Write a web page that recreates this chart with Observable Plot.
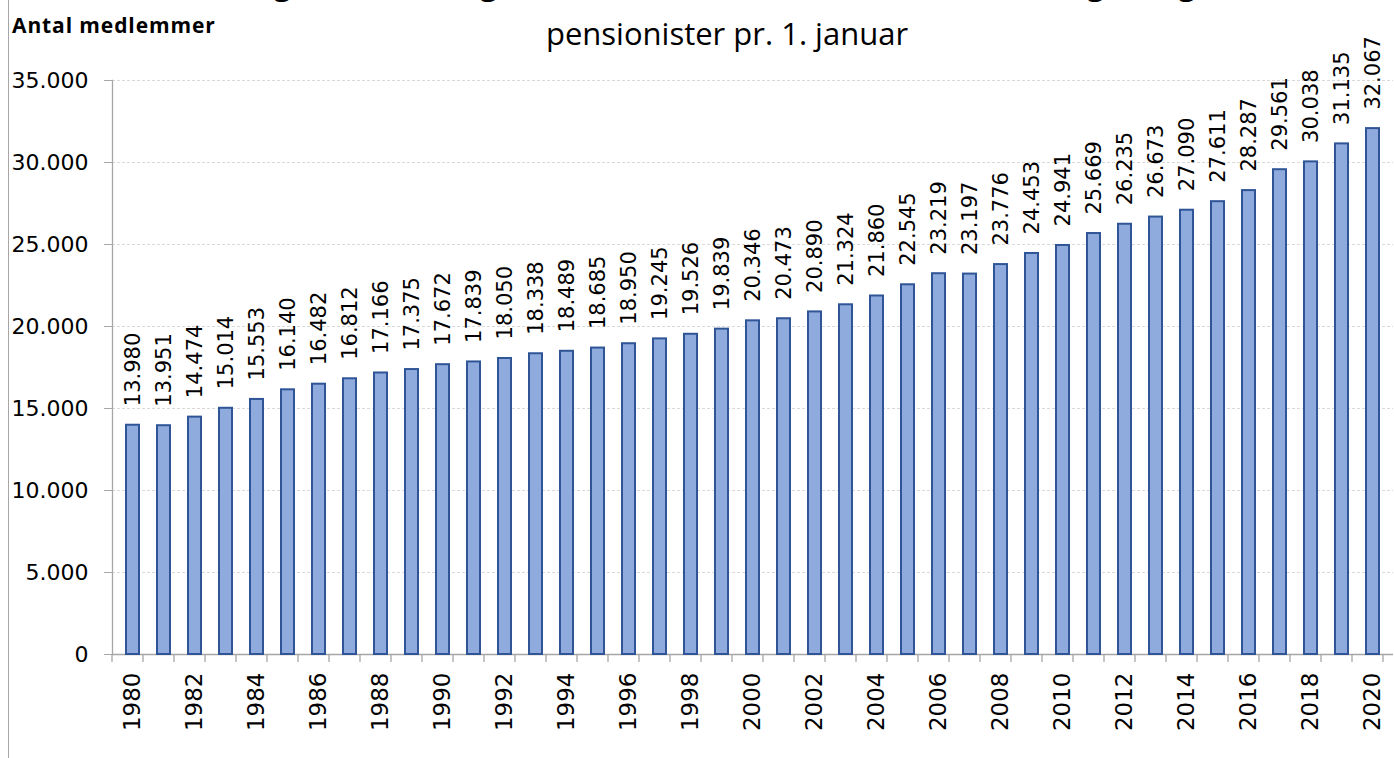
<!DOCTYPE html>
<html>
<head>
<meta charset="utf-8">
<script src="https://cdn.jsdelivr.net/npm/d3@7"></script>
<script src="https://cdn.jsdelivr.net/npm/@observablehq/plot@0.6"></script>
<style>
  html, body { margin: 0; padding: 0; background: #fff; overflow: hidden; }
  #wrap { position: relative; width: 1394px; height: 758px; overflow: hidden; }
  #frame { position: absolute; left: 8px; top: 0; width: 1px; height: 758px; background: #a6a6a6; }
  .title { position: absolute; left: 0; width: 1454px; text-align: center; font-family: "Open Sans", sans-serif; font-size: 31px; color: #000; white-space: nowrap; line-height: 40px; }
  #t1 { top: -37px; }
  #t2 { top: 13px; }
  #ylab { position: absolute; left: 12px; top: 11px; font-family: "Open Sans", sans-serif; font-weight: bold; font-size: 21px; letter-spacing: 0.9px; color: #000; white-space: nowrap; }
  #chart { position: absolute; left: 0; top: 0; }
</style>
</head>
<body>
<div id="wrap">
  <div id="chart"></div>
  <div id="frame"></div>
  <div class="title" id="t1">Figur 1. Udvikling i antal medlemmer (inkl. efterlønsmodtagere og)</div>
  <div class="title" id="t2">pensionister pr. 1. januar</div>
  <div id="ylab">Antal medlemmer</div>
</div>
<script>
const years = ["1980","1981","1982","1983","1984","1985","1986","1987","1988","1989",
  "1990","1991","1992","1993","1994","1995","1996","1997","1998","1999",
  "2000","2001","2002","2003","2004","2005","2006","2007","2008","2009",
  "2010","2011","2012","2013","2014","2015","2016","2017","2018","2019","2020"];
const members = [13980,13951,14474,15014,15553,16140,16482,16812,17166,17375,
  17672,17839,18050,18338,18489,18685,18950,19245,19526,19839,
  20346,20473,20890,21324,21860,22545,23219,23197,23776,24453,
  24941,25669,26235,26673,27090,27611,28287,29561,30038,31135,32067];
const yTicks = [0,5000,10000,15000,20000,25000,30000,35000];
const xLabelYears = years.filter((d, i) => i % 2 === 0);

const data = years.map((y, i) => ({year: y, value: members[i]}));
const fmt = d3.formatLocale({decimal: ",", thousands: ".", grouping: [3], currency: ["", ""]}).format(",");

// Excel-style tick marks between categories
function categoryTicks(index, scales, values, dims) {
  const x = scales.x, y = scales.y;
  const step = x(years[1]) - x(years[0]);
  const y0 = y(0);
  const g = d3.create("svg:g");
  for (let k = 0; k <= years.length; k++) {
    const px = dims.marginLeft + k * step;
    g.append("line").attr("x1", px).attr("x2", px).attr("y1", y0).attr("y2", y0 + 8)
      .attr("stroke", "#a6a6a6").attr("stroke-width", 1.3);
  }
  return g.node();
}

const chart = Plot.plot({
  width: 1394,
  height: 758,
  marginTop: 80,
  marginBottom: 104,
  marginLeft: 112,
  marginRight: 1,
  style: {fontFamily: "'DejaVu Sans', sans-serif", background: "transparent", color: "#000"},
  x: {type: "band", domain: years, paddingInner: 0.58, paddingOuter: 0.29, align: 0.5},
  y: {domain: [0, 35000]},
  marks: [
    Plot.gridY(yTicks.filter(d => d > 0), {stroke: "#d9d9d9", strokeOpacity: 1, strokeDasharray: "3,2"}),
    Plot.frame({anchor: "left", stroke: "#a6a6a6", strokeWidth: 1.3}),
    Plot.ruleY([0], {stroke: "#a6a6a6", strokeWidth: 1.3}),
    Plot.barY(data, {x: "year", y: "value", fill: "#8FAADC", stroke: "#2F5597", strokeWidth: 2}),
    Plot.text(data, {x: "year", y: "value", text: d => fmt(d.value), rotate: -90, textAnchor: "start", lineAnchor: "middle", dy: -19, fontSize: 21, fill: "#000"}),
    Plot.axisY({ticks: yTicks, tickFormat: fmt, tickSize: 8, tickPadding: 16, fontSize: 22, stroke: "#a6a6a6", label: null}),
    Plot.axisX({ticks: xLabelYears, tickSize: 0, tickPadding: 18, tickRotate: -90, fontSize: 23, label: null}),
    categoryTicks
  ]
});
document.getElementById("chart").appendChild(chart);
</script>
</body>
</html>
